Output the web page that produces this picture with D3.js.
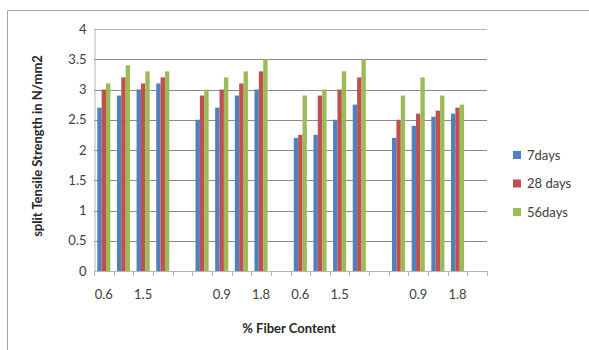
<!DOCTYPE html>
<html>
<head>
<meta charset="utf-8">
<script src="https://cdn.jsdelivr.net/npm/d3@7"></script>
<style>
  html, body { margin: 0; padding: 0; background: #fff; }
  svg { display: block; font-family: Lato, "Open Sans", sans-serif; }
</style>
</head>
<body>
<svg id="chart" width="589" height="350"></svg>
<script>
// ---- data ----
const categories = ["0.6","0.9","1.5","1.8","","0.6","0.9","1.5","1.8","","0.6","0.9","1.5","1.8","","0.6","0.9","1.5","1.8",""];
const seriesNames = ["7days", "28 days", "56days"];
const days7  = [2.7, 2.9, 3.0, 3.1, null, 2.5, 2.7, 2.9, 3.0, null, 2.2, 2.25, 2.5, 2.75, null, 2.2, 2.4, 2.55, 2.6, null];
const days28 = [3.0, 3.2, 3.1, 3.2, null, 2.9, 3.0, 3.1, 3.3, null, 2.25, 2.9, 3.0, 3.2, null, 2.5, 2.6, 2.65, 2.7, null];
const days56 = [3.1, 3.4, 3.3, 3.3, null, 3.0, 3.2, 3.3, 3.5, null, 2.9, 3.0, 3.3, 3.5, null, 2.9, 3.2, 2.9, 2.75, null];
const yTicks = [0, 0.5, 1, 1.5, 2, 2.5, 3, 3.5, 4];
const colors = ["#4F81BD", "#C0504D", "#9BBB59"];

(function () {
const seriesValues = [days7, days28, days56];
const svg = d3.select("#chart");

// chart border (left + top)
svg.append("line").attr("x1", 7.5).attr("x2", 7.5).attr("y1", 10.5).attr("y2", 350)
  .attr("stroke", "#a6a6a6").attr("stroke-width", 1);
svg.append("line").attr("x1", 7.5).attr("x2", 589).attr("y1", 10.5).attr("y2", 10.5)
  .attr("stroke", "#a6a6a6").attr("stroke-width", 1);

const pLeft = 94, pRight = 487, pTop = 29, pBottom = 271;
const idx = categories.map((d, i) => i);
const x0 = d3.scaleBand().domain(idx).range([pLeft, pRight]).padding(0);
const y = d3.scaleLinear().domain([0, 4]).range([pBottom, pTop]);
const clusterW = x0.bandwidth() / 1.5;
const clusterOff = (x0.bandwidth() - clusterW) / 2;
const x1 = d3.scaleBand().domain(d3.range(seriesNames.length)).range([0, clusterW]).padding(0);

// gridlines
svg.append("g").selectAll("line").data(yTicks.filter(d => d > 0)).join("line")
  .attr("x1", pLeft).attr("x2", pRight)
  .attr("y1", d => Math.round(y(d)) + 0.5).attr("y2", d => Math.round(y(d)) + 0.5)
  .attr("stroke", d => d === 4 ? "#b5b5b5" : "#8a8a8a").attr("stroke-width", 1);

// y axis
const yAxis = svg.append("g").attr("transform", `translate(${pLeft + 0.5},0)`)
  .call(d3.axisLeft(y).tickValues(yTicks).tickFormat(d3.format("")).tickSize(0).tickPadding(8));
yAxis.select(".domain").attr("stroke", "#b5b5b5");
yAxis.selectAll("text").attr("font-size", 13).attr("fill", "#404040")
  .attr("font-family", "Lato, sans-serif");

// bars
const flat = [];
seriesValues.forEach((vals, s) => vals.forEach((v, i) => { if (v !== null) flat.push({ s, i, v }); }));
svg.append("g").selectAll("rect").data(flat).join("rect")
  .attr("x", d => x0(d.i) + clusterOff + x1(d.s))
  .attr("width", x1.bandwidth())
  .attr("y", d => y(d.v))
  .attr("height", d => y(0) - y(d.v))
  .attr("fill", d => colors[d.s]);

// x axis line + ticks at band edges
svg.append("line").attr("x1", pLeft).attr("x2", pRight)
  .attr("y1", pBottom + 0.5).attr("y2", pBottom + 0.5).attr("stroke", "#b5b5b5");
const edges = idx.map(i => x0(i)).concat([pRight]);
svg.append("g").selectAll("line").data(edges).join("line")
  .attr("x1", d => Math.round(d) + 0.5).attr("x2", d => Math.round(d) + 0.5)
  .attr("y1", pBottom).attr("y2", pBottom + 5).attr("stroke", "#b5b5b5");

// x labels (every other category, like the original)
const xAxis = svg.append("g").attr("transform", `translate(0,${pBottom})`)
  .call(d3.axisBottom(x0).tickSize(0).tickPadding(19)
    .tickFormat(i => (i % 2 === 0 ? categories[i] : "")));
xAxis.select(".domain").remove();
xAxis.selectAll("text").attr("font-size", 13).attr("fill", "#404040")
  .attr("font-family", "Lato, sans-serif");

// axis titles
svg.append("text").attr("x", 289).attr("y", 333).attr("text-anchor", "middle")
  .attr("font-size", 13).attr("font-weight", "bold").attr("fill", "#262626")
  .text("% Fiber Content");
svg.append("text").attr("transform", "translate(42,146) rotate(-90)").attr("text-anchor", "middle")
  .attr("font-size", 13).attr("font-weight", "bold").attr("fill", "#262626")
  .text("split Tensile Strength in N/mm2");

// legend
const lg = svg.append("g").selectAll("g").data(seriesNames).join("g")
  .attr("transform", (d, i) => `translate(513,${155 + i * 28.5})`);
lg.append("rect").attr("x", 0).attr("y", -4).attr("width", 8).attr("height", 8)
  .attr("fill", (d, i) => colors[i]);
lg.append("text").attr("x", 14).attr("y", 0).attr("dy", "0.35em")
  .attr("font-size", 13).attr("fill", "#404040").text(d => d);
})();
</script>
</body>
</html>
